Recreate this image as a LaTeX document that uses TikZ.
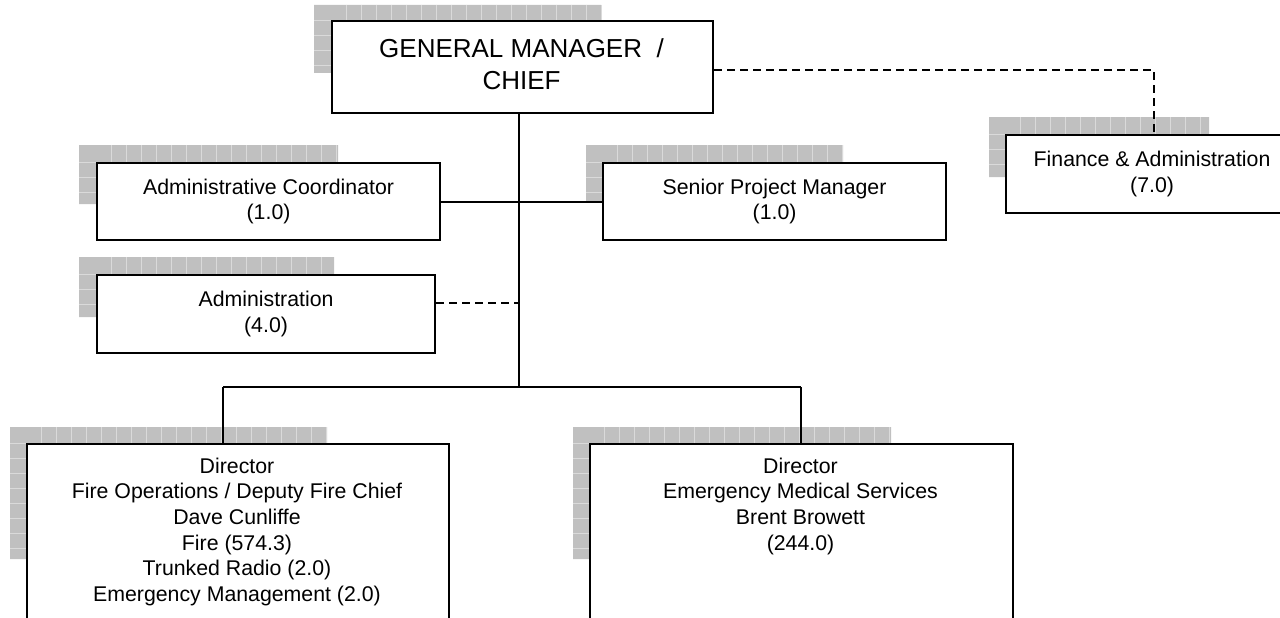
\documentclass[tikz,border=0pt]{standalone}
\usepackage{fontspec}
\setmainfont{Liberation Sans}
\definecolor{shadowfill}{RGB}{192,192,192}
\definecolor{gridcol}{RGB}{218,218,218}
\tikzset{
  orgbox/.style={draw=black, line width=2.1pt, fill=white, inner sep=0pt, anchor=north west},
  txt/.style={font=\fontsize{21.3}{25.7}\selectfont, align=center, inner sep=0pt},
  gmtxt/.style={font=\fontsize{26}{32}\selectfont, align=center, inner sep=0pt},
  conn/.style={draw=black, line width=2pt},
  dconn/.style={draw=black, line width=2pt, dash pattern=on 8pt off 5pt},
  gridln/.style={draw=gridcol, line width=0.8pt}
}
% sx sy sr sb bx by
\newcommand\orgshadow[6]{%
  \fill[shadowfill] (#1,#2) -- (#3,#2) -- (#3,#6) -- (#5,#6) -- (#5,#4) -- (#1,#4) -- cycle;
  \pgfmathtruncatemacro\nxc{(#3-#5)/15}%
  \foreach \i in {1,...,\nxc} \draw[gridln] ({#5+15*\i},#2) -- ({#5+15*\i},#6);
  \pgfmathtruncatemacro\nyc{(#4-#6)/15}%
  \foreach \j in {0,...,\nyc} \draw[gridln] (#1,{#6+15*\j}) -- (#5,{#6+15*\j});
}
\begin{document}
\begin{tikzpicture}[x=1pt,y=-1pt]
\clip (0,0) rectangle (1280,618);
\fill[white] (0,0) rectangle (1280,618);

% shadows
\orgshadow{314}{5}{601}{73}{331}{20}
\orgshadow{79}{145}{338}{204}{96}{162}
\orgshadow{79}{257}{334}{317}{96}{274}
\orgshadow{586}{145}{843}{202}{602}{162}
\orgshadow{989}{117}{1209}{177}{1005}{134}
\orgshadow{10}{427}{327}{559}{26}{443}
\orgshadow{573}{427}{891}{559}{589}{443}

% junction coordinates
\coordinate (spine) at (519,387);
\coordinate (admj) at (519,303);
\coordinate (finj) at (1154,70);
\coordinate (jl) at (223,387);
\coordinate (jr) at (801,387);

% boxes (nodes)
\node[orgbox, minimum width=381pt, minimum height=92pt] (gm) at (331,20) {};
\node[gmtxt] (gmtxt) at (521.5,64) {GENERAL MANAGER\ \ /\\CHIEF};

\node[orgbox, minimum width=343pt, minimum height=77pt] (ac) at (96,162) {};
\node[txt] (actxt) at (ac.center) {Administrative Coordinator\\(1.0)};

\node[orgbox, minimum width=343pt, minimum height=77pt] (spm) at (602,162) {};
\node[txt] (spmtxt) at (spm.center) {Senior Project Manager\\(1.0)};

\node[orgbox, minimum width=338pt, minimum height=78pt] (adm) at (96,274) {};
\node[txt] (admtxt) at (adm.center) {Administration\\(4.0)};

\node[orgbox, minimum width=292pt, minimum height=78pt] (fin) at (1005,134) {};
\node[txt] (fintxt) at (fin.center) {Finance \& Administration\\(7.0)};

\node[orgbox, minimum width=422pt, minimum height=200pt] (fire) at (26,443) {};
\node[txt, anchor=north] (firetxt) at (237,457.5) {Director\\Fire Operations / Deputy Fire Chief\\Dave Cunliffe\\Fire (574.3)\\Trunked Radio (2.0)\\Emergency Management (2.0)};

\node[orgbox, minimum width=423pt, minimum height=200pt] (ems) at (589,443) {};
\node[txt, anchor=north] (emstxt) at (800.5,457.5) {Director\\Emergency Medical Services\\Brent Browett\\(244.0)};

% connectors
\draw[conn] (gm.south -| spine) -- (spine);
\draw[conn] (ac.east) -- (spm.west);
\draw[dconn] (admj -| adm.east) -- (admj);
\draw[conn] (jl) -- (jr);
\draw[conn] (jl) -- (jl |- fire.north);
\draw[conn] (jr) -- (jr |- ems.north);
\draw[dconn] (finj -| gm.east) -- (finj) -- (finj |- fin.north);
\end{tikzpicture}
\end{document}
